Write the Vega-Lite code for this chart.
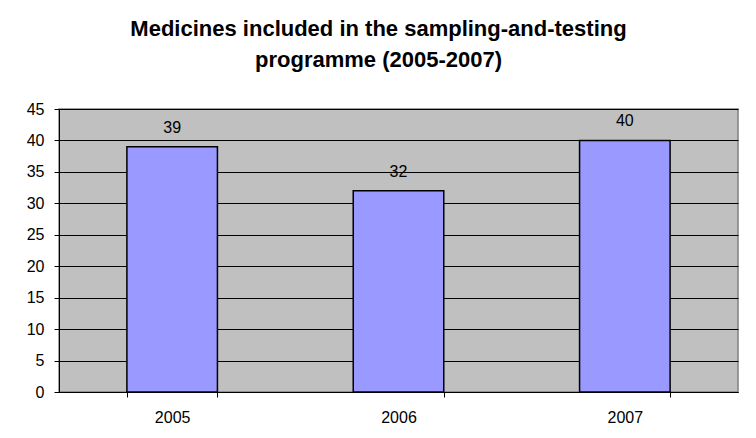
{
  "$schema": "https://vega.github.io/schema/vega-lite/v6.json",
  "width": 679,
  "height": 283,
  "autosize": "none",
  "padding": {"left": 59, "top": 109, "right": 18, "bottom": 46},
  "background": "white",
  "title": {
    "text": ["Medicines included in the sampling-and-testing", "programme (2005-2007)"],
    "font": "Liberation Sans",
    "fontSize": 22,
    "fontWeight": "bold",
    "color": "black",
    "lineHeight": 31,
    "anchor": "middle",
    "dx": -20,
    "offset": 29
  },
  "data": {
    "values": [
      {"year": "2005", "medicines": 39},
      {"year": "2006", "medicines": 32},
      {"year": "2007", "medicines": 40}
    ]
  },
  "encoding": {
    "x": {
      "field": "year",
      "type": "nominal",
      "sort": null,
      "scale": {"paddingInner": 0.6, "paddingOuter": 0.3},
      "axis": {
        "title": null,
        "labelAngle": 0,
        "grid": false,
        "tickBand": "extent",
        "tickSize": 5,
        "tickColor": "black",
        "domainColor": "black",
        "labelColor": "black",
        "labelFont": "Liberation Sans",
        "labelFontSize": 16,
        "labelPadding": 12
      }
    },
    "y": {
      "field": "medicines",
      "type": "quantitative",
      "scale": {"domain": [0, 45], "nice": false},
      "axis": {
        "title": null,
        "values": [0, 5, 10, 15, 20, 25, 30, 35, 40, 45],
        "grid": true,
        "gridColor": "black",
        "gridOpacity": 1,
        "tickSize": 5,
        "tickColor": "black",
        "domainColor": "black",
        "labelColor": "black",
        "labelFont": "Liberation Sans",
        "labelFontSize": 16,
        "labelPadding": 10
      }
    }
  },
  "layer": [
    {
      "mark": {"type": "bar", "fill": "#9999FF", "stroke": "black", "strokeWidth": 1.5}
    },
    {
      "mark": {
        "type": "text",
        "baseline": "alphabetic",
        "dy": -14,
        "font": "Liberation Sans",
        "fontSize": 16,
        "color": "black"
      },
      "encoding": {"text": {"field": "medicines", "type": "quantitative"}}
    }
  ],
  "config": {
    "view": {"fill": "#C0C0C0", "stroke": "#808080", "strokeWidth": 1.5}
  }
}
